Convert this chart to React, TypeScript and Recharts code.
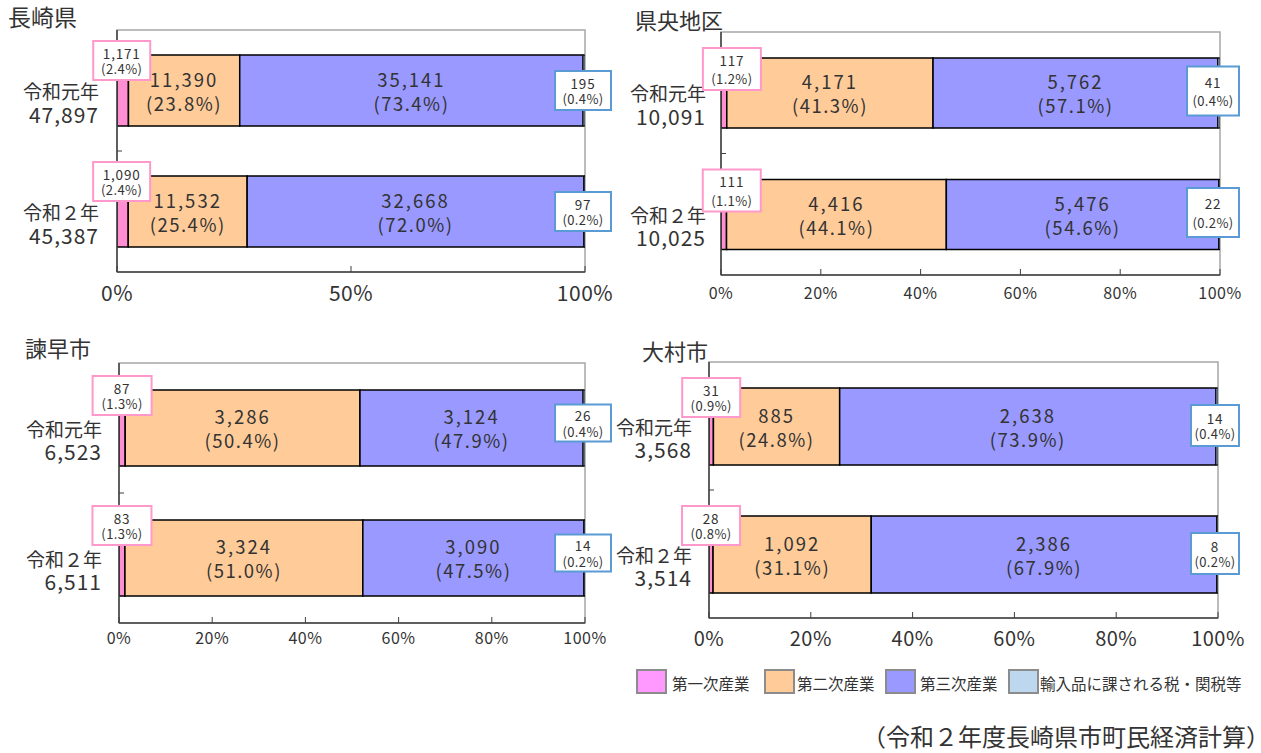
import React from 'react';
import { BarChart, Bar, XAxis, YAxis, ReferenceArea, LabelList } from 'recharts';

const FONT = '"Noto Sans CJK JP", "Noto Sans", sans-serif';
const TEXT = '#333333';

const years = ['令和元年', '令和２年'];
const seriesNames = ['第一次産業', '第二次産業', '第三次産業', '輸入品に課される税・関税等'];
const barColors = ['#FF8FD2', '#FFCC99', '#9999FF', '#BDD7EE'];
const legendColors = ['#FF99FF', '#FFCC99', '#9999FF', '#BDD7EE'];
const ticksHalf = [0, 0.5, 1];
const ticksFifth = [0, 0.2, 0.4, 0.6, 0.8, 1];

// 長崎県
const nagasakiTotal = [47897, 45387];
const nagasakiPrimary = [1171, 1090];
const nagasakiSecondary = [11390, 11532];
const nagasakiTertiary = [35141, 32668];
const nagasakiTax = [195, 97];
const nagasakiPct1 = [2.4, 2.4];
const nagasakiPct2 = [23.8, 25.4];
const nagasakiPct3 = [73.4, 72.0];
const nagasakiPct4 = [0.4, 0.2];

// 県央地区
const kenouTotal = [10091, 10025];
const kenouPrimary = [117, 111];
const kenouSecondary = [4171, 4416];
const kenouTertiary = [5762, 5476];
const kenouTax = [41, 22];
const kenouPct1 = [1.2, 1.1];
const kenouPct2 = [41.3, 44.1];
const kenouPct3 = [57.1, 54.6];
const kenouPct4 = [0.4, 0.2];

// 諫早市
const isahayaTotal = [6523, 6511];
const isahayaPrimary = [87, 83];
const isahayaSecondary = [3286, 3324];
const isahayaTertiary = [3124, 3090];
const isahayaTax = [26, 14];
const isahayaPct1 = [1.3, 1.3];
const isahayaPct2 = [50.4, 51.0];
const isahayaPct3 = [47.9, 47.5];
const isahayaPct4 = [0.4, 0.2];

// 大村市
const omuraTotal = [3568, 3514];
const omuraPrimary = [31, 28];
const omuraSecondary = [885, 1092];
const omuraTertiary = [2638, 2386];
const omuraTax = [14, 8];
const omuraPct1 = [0.9, 0.8];
const omuraPct2 = [24.8, 31.1];
const omuraPct3 = [73.9, 67.9];
const omuraPct4 = [0.4, 0.2];

const fmt = (n: number) => n.toLocaleString('en-US');
const lbl = (v: number, p: number) => `${fmt(v)}\n(${p.toFixed(1)}%)`;

function buildRows(total, v1, v2, v3, v4, p1, p2, p3, p4) {
  return years.map((name, i) => ({
    name,
    total: total[i],
    v1: v1[i], v2: v2[i], v3: v3[i], v4: v4[i],
    l1: lbl(v1[i], p1[i]), l2: lbl(v2[i], p2[i]), l3: lbl(v3[i], p3[i]), l4: lbl(v4[i], p4[i]),
  }));
}

const panels = [
  {
    title: '長崎県', titleX: 8, titleY: 17, titleSize: 23,
    rows: buildRows(nagasakiTotal, nagasakiPrimary, nagasakiSecondary, nagasakiTertiary, nagasakiTax, nagasakiPct1, nagasakiPct2, nagasakiPct3, nagasakiPct4),
    left: 0, top: 0, width: 620, height: 310,
    margin: { top: 30, right: 35, bottom: 8, left: 0 }, yWidth: 117, barSize: 71,
    ticks: ticksHalf, tickFont: 21, tickDy: 20, catDx: 18,
    pink: { w: 57, h: 39, dy: -14, dx: -1 }, blue: { w: 56, h: 39, dx: -2, dy: 0 }, boxGap: 16,
  },
  {
    title: '県央地区', titleX: 635, titleY: 20, titleSize: 22,
    rows: buildRows(kenouTotal, kenouPrimary, kenouSecondary, kenouTertiary, kenouTax, kenouPct1, kenouPct2, kenouPct3, kenouPct4),
    left: 600, top: 0, width: 661, height: 310,
    margin: { top: 32, right: 41, bottom: 5, left: 0 }, yWidth: 121, barSize: 70,
    ticks: ticksFifth, tickFont: 16, tickDy: 17, catDx: 15,
    pink: { w: 58, h: 42, dy: -10, dx: 8 }, blue: { w: 52, h: 49, dx: -7, dy: -2 }, boxGap: 19,
  },
  {
    title: '諫早市', titleX: 25, titleY: 348, titleSize: 22,
    rows: buildRows(isahayaTotal, isahayaPrimary, isahayaSecondary, isahayaTertiary, isahayaTax, isahayaPct1, isahayaPct2, isahayaPct3, isahayaPct4),
    left: 0, top: 330, width: 620, height: 330,
    margin: { top: 33, right: 35, bottom: 7, left: 0 }, yWidth: 119, barSize: 76,
    ticks: ticksFifth, tickFont: 16, tickDy: 14, catDx: 17,
    pink: { w: 59, h: 39, dy: -14, dx: 0 }, blue: { w: 56, h: 37, dx: -2, dy: -5 }, boxGap: 16,
  },
  {
    title: '大村市', titleX: 642, titleY: 351, titleSize: 22,
    rows: buildRows(omuraTotal, omuraPrimary, omuraSecondary, omuraTertiary, omuraTax, omuraPct1, omuraPct2, omuraPct3, omuraPct4),
    left: 600, top: 330, width: 661, height: 330,
    margin: { top: 32, right: 43, bottom: 12, left: 0 }, yWidth: 109, barSize: 77,
    ticks: ticksFifth, tickFont: 20, tickDy: 19, catDx: 17,
    pink: { w: 58, h: 39, dy: -10, dx: 0 }, blue: { w: 48, h: 41, dx: -3, dy: -1 }, boxGap: 16,
  },
];

function rectOf(p: any) {
  const vb = p.viewBox || {};
  return {
    x: Number(p.x ?? vb.x), y: Number(p.y ?? vb.y),
    width: Number(p.width ?? vb.width), height: Number(p.height ?? vb.height),
  };
}

function XTick(p: any) {
  const { x, y, payload, cfg } = p;
  return (
    <g>
      <line x1={x} x2={x} y1={y} y2={y - 6} stroke="#404040" strokeWidth={1} />
      <text x={x} y={y + cfg.tickDy} textAnchor="middle" dominantBaseline="central"
        fontSize={cfg.tickFont} fill={TEXT} fontFamily={FONT} letterSpacing={0.5}>
        {`${Math.round(payload.value * 100)}%`}
      </text>
    </g>
  );
}

function YTick(p: any) {
  const { x, y, payload, index, cfg } = p;
  const row = cfg.rows.find((r: any) => r.name === payload.value);
  const off = payload.offset;
  return (
    <g>
      {index === 0 && typeof off === 'number' ? (
        <line x1={x} x2={x + 5} y1={y + off} y2={y + off} stroke="#404040" strokeWidth={1} />
      ) : null}
      <text x={x - cfg.catDx} y={y} textAnchor="end" dominantBaseline="central"
        fontSize={19} fill={TEXT} fontFamily={FONT}>{payload.value}</text>
      <text x={x - cfg.catDx} y={y + 23} textAnchor="end" dominantBaseline="central"
        fontSize={21} fill={TEXT} fontFamily={FONT} letterSpacing={1}>{row ? fmt(row.total) : ''}</text>
    </g>
  );
}

function InnerLabel(p: any) {
  const r = rectOf(p);
  const lines = String(p.value ?? '').split('\n');
  const cx = r.x + r.width / 2;
  const cy = r.y + r.height / 2;
  return (
    <g>
      <text x={cx} y={cy - 12} textAnchor="middle" dominantBaseline="central" fontSize={18.5}
        fill={TEXT} fontFamily={FONT} letterSpacing={2}>{lines[0]}</text>
      <text x={cx} y={cy + 12} textAnchor="middle" dominantBaseline="central" fontSize={18.5}
        fill={TEXT} fontFamily={FONT} letterSpacing={1.5}>{lines[1]}</text>
    </g>
  );
}

function BoxLabel(p: any) {
  const { cfg, kind } = p;
  const r = rectOf(p);
  const lines = String(p.value ?? '').split('\n');
  let bx: number, by: number, bw: number, bh: number, color: string;
  if (kind === 'pink') {
    bw = cfg.pink.w; bh = cfg.pink.h;
    bx = r.x + r.width / 2 + cfg.pink.dx - bw / 2;
    by = r.y + cfg.pink.dy;
    color = '#FF99CC';
  } else {
    bw = cfg.blue.w; bh = cfg.blue.h;
    bx = r.x + r.width + cfg.blue.dx - bw / 2;
    by = r.y + r.height / 2 + cfg.blue.dy - bh / 2;
    color = '#5B9BD5';
  }
  const cx = bx + bw / 2;
  const cy = by + bh / 2;
  const g = cfg.boxGap / 2;
  return (
    <g>
      <rect x={bx} y={by} width={bw} height={bh} fill="#FFFFFF" stroke={color} strokeWidth={2} />
      <text x={cx} y={cy - g} textAnchor="middle" dominantBaseline="central" fontSize={13.5}
        fill={TEXT} fontFamily={FONT} letterSpacing={0.8}>{lines[0]}</text>
      <text x={cx} y={cy + g} textAnchor="middle" dominantBaseline="central" fontSize={13}
        fill={TEXT} fontFamily={FONT} letterSpacing={0.4}>{lines[1]}</text>
    </g>
  );
}

function Panel({ cfg }: { cfg: any }) {
  const overlayMargin = {
    top: cfg.margin.top,
    right: cfg.margin.right,
    left: cfg.margin.left + cfg.yWidth,
    bottom: cfg.margin.bottom + 30,
  };
  return (
    <>
      <div style={{
        position: 'absolute', left: cfg.titleX, top: cfg.titleY - cfg.titleSize / 2 - 1,
        fontSize: cfg.titleSize, lineHeight: `${cfg.titleSize}px`, color: TEXT, whiteSpace: 'nowrap',
      }}>{cfg.title}</div>
      <div style={{ position: 'absolute', left: cfg.left, top: cfg.top, width: cfg.width, height: cfg.height }}>
        <BarChart width={cfg.width} height={cfg.height} data={cfg.rows} layout="vertical"
          stackOffset="expand" margin={cfg.margin} barCategoryGap={0}>
          <ReferenceArea x1={0} x2={1} fill="none" stroke="#a6a6a6" strokeWidth={1.5} ifOverflow="visible" />
          <XAxis type="number" domain={[0, 1]} ticks={cfg.ticks} interval={0} height={30}
            tickSize={0} tickMargin={0} tickLine={false} allowDataOverflow
            axisLine={{ stroke: '#404040', strokeWidth: 1.5 }}
            tick={(p: any) => <XTick {...p} cfg={cfg} />} />
          <YAxis type="category" dataKey="name" width={cfg.yWidth} interval={0}
            tickSize={0} tickMargin={0} tickLine={false}
            axisLine={{ stroke: '#404040', strokeWidth: 1.5 }}
            tick={(p: any) => <YTick {...p} cfg={cfg} />} />
          <Bar dataKey="v1" name={seriesNames[0]} stackId="s" fill={barColors[0]} stroke="#000" strokeWidth={1.5}
            barSize={cfg.barSize} isAnimationActive={false} />
          <Bar dataKey="v2" name={seriesNames[1]} stackId="s" fill={barColors[1]} stroke="#000" strokeWidth={1.5}
            barSize={cfg.barSize} isAnimationActive={false}>
            <LabelList dataKey="l2" content={(p: any) => <InnerLabel {...p} />} />
          </Bar>
          <Bar dataKey="v3" name={seriesNames[2]} stackId="s" fill={barColors[2]} stroke="#000" strokeWidth={1.5}
            barSize={cfg.barSize} isAnimationActive={false}>
            <LabelList dataKey="l3" content={(p: any) => <InnerLabel {...p} />} />
          </Bar>
          <Bar dataKey="v4" name={seriesNames[3]} stackId="s" fill={barColors[3]} stroke="#000" strokeWidth={1}
            barSize={cfg.barSize} isAnimationActive={false}>
            <LabelList dataKey="l4" content={(p: any) => <BoxLabel {...p} cfg={cfg} kind="blue" />} />
          </Bar>
        </BarChart>
      </div>
      {/* overlay layer so the pink value boxes sit above the neighbouring segments */}
      <div style={{ position: 'absolute', left: cfg.left, top: cfg.top, width: cfg.width, height: cfg.height, pointerEvents: 'none' }}>
        <BarChart width={cfg.width} height={cfg.height} data={cfg.rows} layout="vertical"
          stackOffset="expand" margin={overlayMargin} barCategoryGap={0}>
          <XAxis type="number" domain={[0, 1]} ticks={cfg.ticks} hide />
          <YAxis type="category" dataKey="name" hide />
          <Bar dataKey="v1" stackId="s" fill="none" stroke="none" barSize={cfg.barSize} isAnimationActive={false}>
            <LabelList dataKey="l1" content={(p: any) => <BoxLabel {...p} cfg={cfg} kind="pink" />} />
          </Bar>
          <Bar dataKey="v2" stackId="s" fill="none" stroke="none" barSize={cfg.barSize} isAnimationActive={false} />
          <Bar dataKey="v3" stackId="s" fill="none" stroke="none" barSize={cfg.barSize} isAnimationActive={false} />
          <Bar dataKey="v4" stackId="s" fill="none" stroke="none" barSize={cfg.barSize} isAnimationActive={false} />
        </BarChart>
      </div>
    </>
  );
}

const legendPos = [
  { box: 636, text: 672 },
  { box: 764, text: 797 },
  { box: 885, text: 920 },
  { box: 1008, text: 1040 },
];

export default function App() {
  return (
    <div style={{
      position: 'absolute', left: 0, top: 0, width: 1261, height: 753, background: '#fff',
      fontFamily: FONT, color: TEXT, overflow: 'hidden',
    }}>
      {panels.map((cfg, i) => <Panel key={i} cfg={cfg} />)}
      {seriesNames.map((n, i) => (
        <React.Fragment key={n}>
          <div style={{
            position: 'absolute', left: legendPos[i].box, top: 669, width: 27, height: 21,
            background: legendColors[i], border: '2px solid #8c8c8c',
          }} />
          <div style={{
            position: 'absolute', left: legendPos[i].text, top: 674, fontSize: 15.5, lineHeight: '18px',
            whiteSpace: 'nowrap', color: TEXT,
          }}>{n}</div>
        </React.Fragment>
      ))}
      <div style={{
        position: 'absolute', left: 862, top: 722, fontSize: 24, lineHeight: '28px', whiteSpace: 'nowrap', color: TEXT,
      }}>（令和２年度長崎県市町民経済計算）</div>
    </div>
  );
}
